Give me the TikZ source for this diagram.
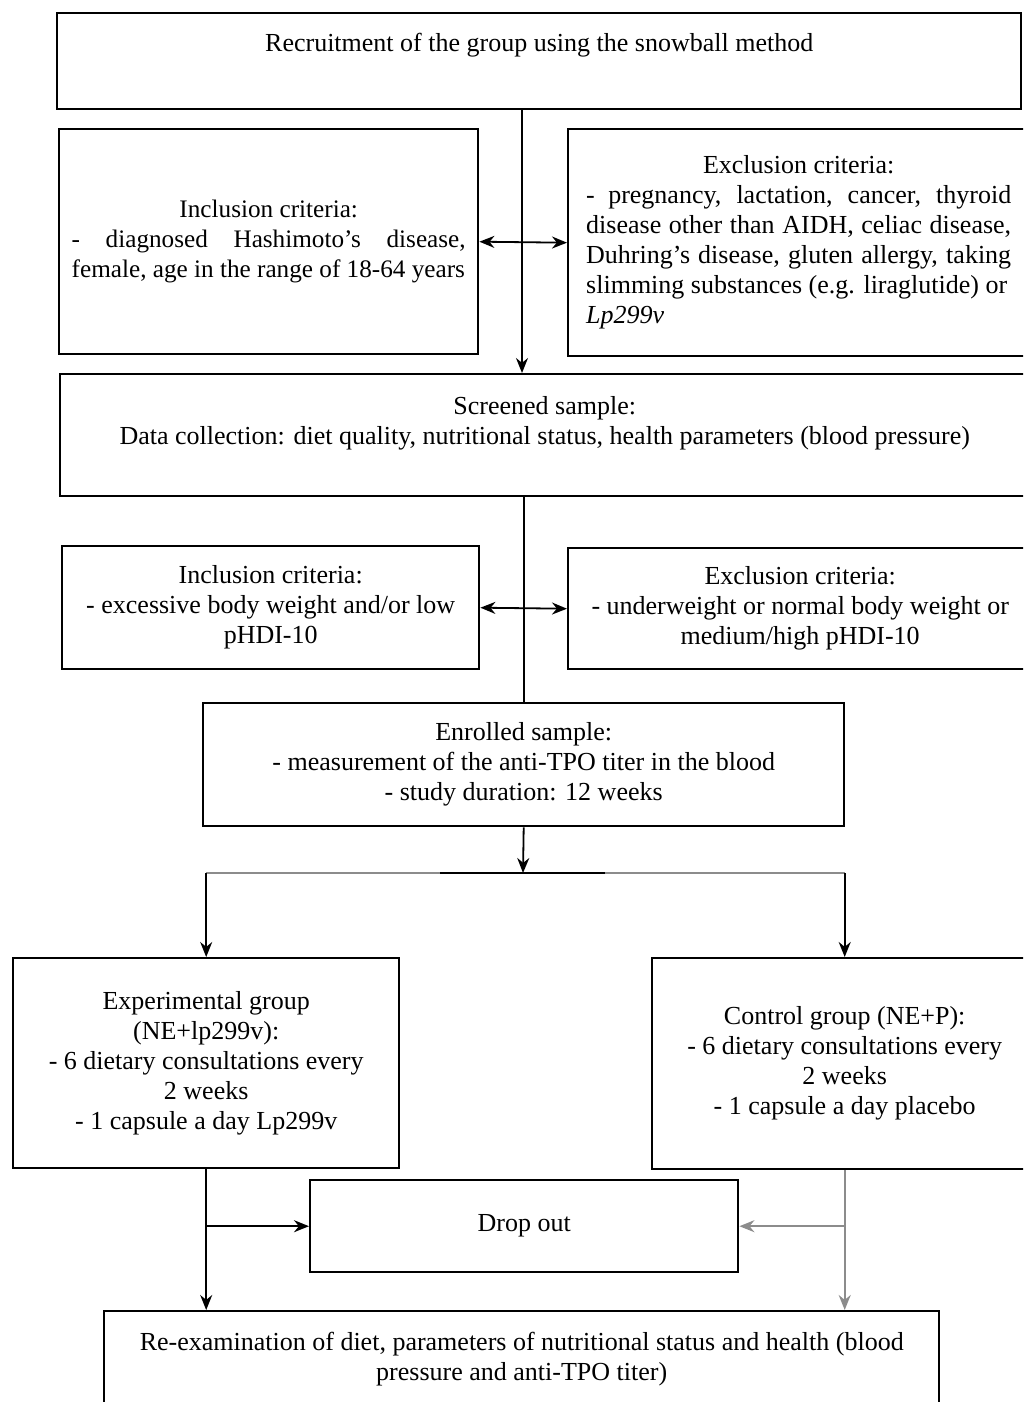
\documentclass[tikz,border=0pt]{standalone}
\usepackage{fontspec}
\setmainfont{Liberation Serif}
\usepackage{tikz}
\usetikzlibrary{arrows.meta,positioning,calc}

\begin{document}
\begin{tikzpicture}[x=0.5pt,y=-0.5pt,
box/.style={rectangle, draw=black, line width=1.2pt, inner sep=0pt, align=center, anchor=north west,
  font=\fontsize{13}{15}\selectfont},
jbox/.style={box, align=justify},
link/.style={line width=0.9pt, -{Stealth[length=7.5pt,width=6pt]}},
both/.style={line width=0.9pt, {Stealth[length=7.5pt,width=6pt]}-{Stealth[length=7.5pt,width=6pt]}},
faint/.style={draw=black!45},
]
\useasboundingbox (0,0) rectangle (1023,1402);
\clip (0,0) rectangle (1023,1402);

%Nodes
\node[box, minimum width=482pt, minimum height=48pt, text height=19pt, text depth=29pt]
  (recruit) at (56,12) {Recruitment of the group using the snowball method};
\node[jbox, minimum width=209.5pt, minimum height=112.5pt, text width=197pt, font=\fontsize{12.6}{15}\selectfont]
  (incl1) at (58,128) {{\centering Inclusion criteria:\par}\noindent - diagnosed Hashimoto's disease,\linebreak female, age in the range of 18-64 years};
\node[jbox, minimum width=230.5pt, minimum height=113.5pt, text width=212.5pt]
  (excl1) at (567,128) {{\centering Exclusion criteria:\par}\noindent - pregnancy, lactation, cancer, thyroid\linebreak disease other than AIDH, celiac disease,\linebreak Duhring's disease, gluten allergy, taking\linebreak slimming substances (e.g. liraglutide) or\\ \textit{Lp299v}};
\node[box, minimum width=484.5pt, minimum height=61pt]
  (screened) at (59,373) {Screened sample:\\Data collection: diet quality, nutritional status, health parameters (blood pressure)\\\mbox{}};
\node[box, minimum width=208.5pt, minimum height=61.5pt]
  (incl2) at (61,545) {Inclusion criteria:\\- excessive body weight and/or low\\pHDI-10};
\node[box, minimum width=232pt, minimum height=60.5pt]
  (excl2) at (567,547) {Exclusion criteria:\\- underweight or normal body weight or\\medium/high pHDI-10};
\node[box, minimum width=320.5pt, minimum height=61.5pt]
  (enrolled) at (202,702) {Enrolled sample:\\- measurement of the anti-TPO titer in the blood\\- study duration: 12 weeks};
\node[box, minimum width=193pt, minimum height=105pt]
  (expgrp) at (12,957) {Experimental group\\(NE+lp299v):\\- 6 dietary consultations every\\2 weeks\\- 1 capsule a day Lp299v};
\node[box, minimum width=192.5pt, minimum height=105.5pt]
  (ctrlgrp) at (651,957) {Control group (NE+P):\\- 6 dietary consultations every\\2 weeks\\- 1 capsule a day placebo};
\node[box, minimum width=214pt, minimum height=46pt]
  (dropout) at (309,1179) {Drop out};
\node[box, minimum width=417.5pt, minimum height=48pt]
  (reexam) at (103,1310) {Re-examination of diet, parameters of nutritional status and health (blood\\pressure and anti-TPO titer)};

\coordinate (spine) at (522,0);
\coordinate (split) at (523,873);

%Lines
\draw[link] (recruit.south -| spine) -- (screened.north -| spine);
\draw[both] (incl1.east) -- (excl1.west);
\draw[line width=0.9pt] (screened.south -| enrolled.north) -- (enrolled.north);
\draw[both] (incl2.east) -- (excl2.west);
\draw[link] (enrolled.south) -- (split);
\draw[line width=0.9pt, faint] (expgrp.north |- split) -- (ctrlgrp.north |- split);
\draw[line width=1.1pt] ($(split)+(-83,0)$) -- ($(split)+(82,0)$);
\draw[link] (expgrp.north |- split) -- (expgrp.north);
\draw[link] (ctrlgrp.north |- split) -- (ctrlgrp.north);
\draw[link] (expgrp.south) -- (reexam.north -| expgrp.south);
\draw[link] (expgrp.south |- dropout.west) -- (dropout.west);
\draw[link, faint] (ctrlgrp.south) -- (reexam.north -| ctrlgrp.south);
\draw[link, faint] (ctrlgrp.south |- dropout.east) -- (dropout.east);
\end{tikzpicture}
\end{document}
